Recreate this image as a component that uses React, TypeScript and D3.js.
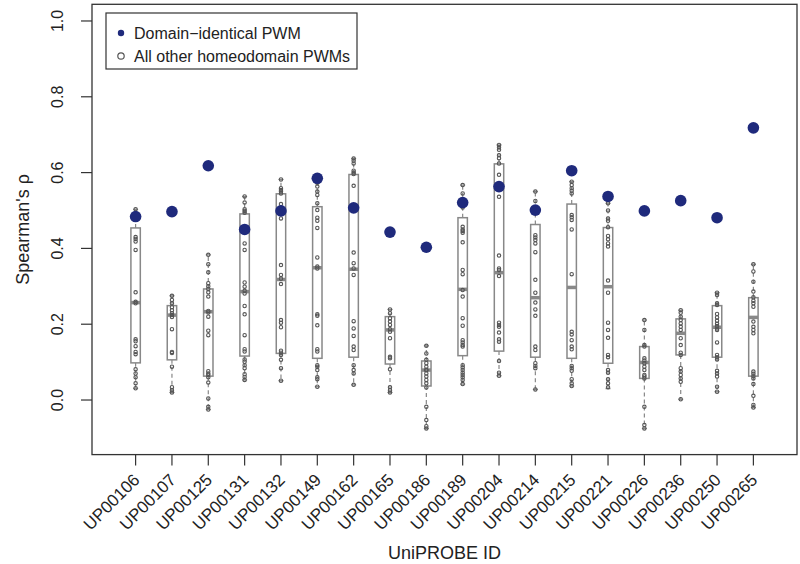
import React from "react";
import * as d3 from "d3";

const categories = ["UP00106","UP00107","UP00125","UP00131","UP00132","UP00149","UP00162","UP00165","UP00186","UP00189","UP00204","UP00214","UP00215","UP00221","UP00226","UP00236","UP00250","UP00265"];

const identical = [0.484,0.497,0.618,0.450,0.499,0.585,0.507,0.443,0.403,0.521,0.563,0.501,0.605,0.537,0.499,0.526,0.481,0.718];

const whiskerLow = [0.031,0.020,-0.025,0.053,0.051,0.035,0.040,0.020,-0.075,0.042,0.064,0.028,0.037,0.030,-0.075,0.002,0.022,-0.020];
const q1 = [0.098,0.106,0.063,0.116,0.123,0.110,0.113,0.095,0.037,0.117,0.129,0.113,0.110,0.097,0.057,0.119,0.113,0.063];
const medians = [0.257,0.224,0.233,0.286,0.318,0.349,0.345,0.185,0.079,0.292,0.336,0.270,0.297,0.299,0.099,0.176,0.192,0.218];
const q3 = [0.454,0.249,0.293,0.491,0.544,0.510,0.595,0.220,0.103,0.481,0.623,0.463,0.517,0.455,0.141,0.214,0.249,0.270];
const whiskerHigh = [0.503,0.275,0.383,0.537,0.582,0.573,0.637,0.239,0.143,0.567,0.673,0.550,0.576,0.519,0.211,0.237,0.283,0.358];

const others = [
  [0.503,0.43,0.425,0.418,0.396,0.284,0.259,0.255,0.16,0.155,0.142,0.127,0.121,0.081,0.070,0.060,0.044,0.031],
  [0.275,0.264,0.255,0.245,0.237,0.229,0.224,0.219,0.187,0.127,0.124,0.088,0.034,0.026,0.020],
  [0.383,0.358,0.337,0.308,0.300,0.293,0.284,0.273,0.235,0.231,0.220,0.183,0.171,0.076,0.070,0.066,0.060,0.046,0.004,-0.018,-0.025],
  [0.537,0.521,0.503,0.499,0.494,0.413,0.396,0.310,0.299,0.288,0.281,0.248,0.226,0.171,0.134,0.128,0.107,0.101,0.092,0.084,0.068,0.061,0.053],
  [0.582,0.559,0.554,0.550,0.545,0.517,0.479,0.356,0.330,0.320,0.306,0.211,0.204,0.192,0.130,0.125,0.119,0.106,0.084,0.051],
  [0.573,0.563,0.550,0.541,0.519,0.501,0.481,0.473,0.454,0.376,0.352,0.347,0.226,0.222,0.197,0.134,0.128,0.092,0.088,0.079,0.060,0.055,0.035],
  [0.637,0.631,0.624,0.605,0.600,0.596,0.565,0.389,0.361,0.347,0.330,0.208,0.189,0.169,0.141,0.132,0.092,0.079,0.070,0.040],
  [0.239,0.229,0.216,0.207,0.198,0.187,0.180,0.163,0.114,0.110,0.081,0.034,0.026,0.020],
  [0.143,0.123,0.106,0.097,0.088,0.079,0.079,0.070,0.062,0.053,0.044,0.033,-0.018,-0.053,-0.069,-0.075],
  [0.567,0.545,0.508,0.457,0.450,0.446,0.441,0.416,0.343,0.332,0.290,0.273,0.216,0.196,0.158,0.152,0.145,0.141,0.092,0.086,0.079,0.072,0.066,0.060,0.053,0.042],
  [0.673,0.667,0.660,0.646,0.638,0.624,0.594,0.536,0.381,0.347,0.343,0.327,0.204,0.198,0.193,0.178,0.160,0.154,0.103,0.072,0.064],
  [0.550,0.525,0.435,0.429,0.422,0.413,0.390,0.317,0.283,0.257,0.239,0.222,0.141,0.132,0.097,0.090,0.084,0.028],
  [0.576,0.567,0.559,0.552,0.545,0.488,0.482,0.475,0.450,0.332,0.180,0.173,0.158,0.141,0.134,0.090,0.084,0.077,0.055,0.044,0.037],
  [0.519,0.500,0.479,0.473,0.456,0.433,0.424,0.413,0.405,0.315,0.283,0.204,0.185,0.164,0.119,0.113,0.079,0.072,0.055,0.044,0.034],
  [0.211,0.185,0.145,0.141,0.110,0.104,0.097,0.088,0.079,0.066,0.062,0.057,-0.018,-0.066,-0.075],
  [0.237,0.230,0.220,0.211,0.202,0.193,0.185,0.163,0.145,0.125,0.119,0.084,0.075,0.066,0.057,0.048,0.002],
  [0.283,0.277,0.255,0.251,0.227,0.218,0.209,0.201,0.195,0.189,0.185,0.152,0.119,0.113,0.107,0.077,0.070,0.062,0.035,0.022],
  [0.358,0.339,0.312,0.286,0.271,0.262,0.255,0.246,0.207,0.193,0.185,0.176,0.075,0.069,0.063,0.057,0.042,0.011,-0.013,-0.020],
];

const yTicks = [0.0, 0.2, 0.4, 0.6, 0.8, 1.0];

const W = 800, H = 564;
const plot = { left: 92, right: 797, top: 4.3, bottom: 454.6 };
const FONT = "'Liberation Sans', Arial, Helvetica, sans-serif";
const NAVY = "#1f2a7c";
const BOXC = "#888888";
const PTC = "#555555";

export default function App() {
  const x = d3.scaleLinear().domain([-0.2, 19.2]).range([plot.left, plot.right]);
  const y = d3.scaleLinear().domain([-0.144, 1.044]).range([plot.bottom, plot.top]);
  const hw = 4.7;

  return (
    <svg width={W} height={H} style={{ position: "absolute", left: 0, top: 0, background: "#fff" }} fontFamily={FONT}>
      <rect x={0} y={0} width={W} height={H} fill="#fff" />
      {categories.map((c, i) => {
        const cx = x(i + 1);
        return (
          <g key={"b" + c}>
            <line x1={cx} x2={cx} y1={y(q3[i])} y2={y(whiskerHigh[i])} stroke={BOXC} strokeWidth={1.2} strokeDasharray="4,3" />
            <line x1={cx} x2={cx} y1={y(q1[i])} y2={y(whiskerLow[i])} stroke={BOXC} strokeWidth={1.2} strokeDasharray="4,3" />
            <line x1={cx - 2.5} x2={cx + 2.5} y1={y(whiskerHigh[i])} y2={y(whiskerHigh[i])} stroke={BOXC} strokeWidth={1.2} />
            <line x1={cx - 2.5} x2={cx + 2.5} y1={y(whiskerLow[i])} y2={y(whiskerLow[i])} stroke={BOXC} strokeWidth={1.2} />
            <rect x={cx - hw} y={y(q3[i])} width={2 * hw} height={y(q1[i]) - y(q3[i])} fill="#fff" stroke={BOXC} strokeWidth={1.5} />
            <line x1={cx - hw} x2={cx + hw} y1={y(medians[i])} y2={y(medians[i])} stroke={BOXC} strokeWidth={3.5} />
          </g>
        );
      })}
      {categories.map((c, i) => (
        <g key={"p" + c}>
          {others[i].map((v, j) => (
            <circle key={j} cx={x(i + 1)} cy={y(v)} r={1.7} fill="none" stroke={PTC} strokeWidth={1.1} />
          ))}
        </g>
      ))}
      {categories.map((c, i) => (
        <circle key={"d" + c} cx={x(i + 1)} cy={y(identical[i])} r={5.8} fill={NAVY} />
      ))}
      <rect x={plot.left} y={plot.top} width={plot.right - plot.left} height={plot.bottom - plot.top} fill="none" stroke="#333" strokeWidth={1.3} />
      {yTicks.map((t) => (
        <g key={"yt" + t}>
          <line x1={plot.left} x2={plot.left - 11} y1={y(t)} y2={y(t)} stroke="#333" strokeWidth={1.2} />
          <text transform={`translate(${63},${y(t)}) rotate(-90)`} textAnchor="middle" fontSize={16} fill="#222">{t.toFixed(1)}</text>
        </g>
      ))}
      {categories.map((c, i) => (
        <g key={"xt" + c}>
          <line x1={x(i + 1)} x2={x(i + 1)} y1={plot.bottom} y2={plot.bottom + 11} stroke="#333" strokeWidth={1.2} />
          <text transform={`translate(${x(i + 1) + 5},${481}) rotate(-45)`} textAnchor="end" fontSize={17} fill="#222">{c}</text>
        </g>
      ))}
      <text transform={`translate(${29},${(plot.top + plot.bottom) / 2}) rotate(-90)`} textAnchor="middle" fontSize={18} fill="#222">Spearman's ρ</text>
      <text x={(plot.left + plot.right) / 2} y={559} textAnchor="middle" fontSize={18} fill="#222">UniPROBE ID</text>
      <g>
        <rect x={106} y={13} width={251} height={56} fill="#fff" stroke="#333" strokeWidth={1.2} />
        <circle cx={121} cy={33} r={3.2} fill={NAVY} />
        <circle cx={121} cy={56} r={3.2} fill="none" stroke={PTC} strokeWidth={1.2} />
        <text x={134} y={39} fontSize={16} fill="#222">Domain−identical PWM</text>
        <text x={134} y={62} fontSize={16} fill="#222">All other homeodomain PWMs</text>
      </g>
    </svg>
  );
}
